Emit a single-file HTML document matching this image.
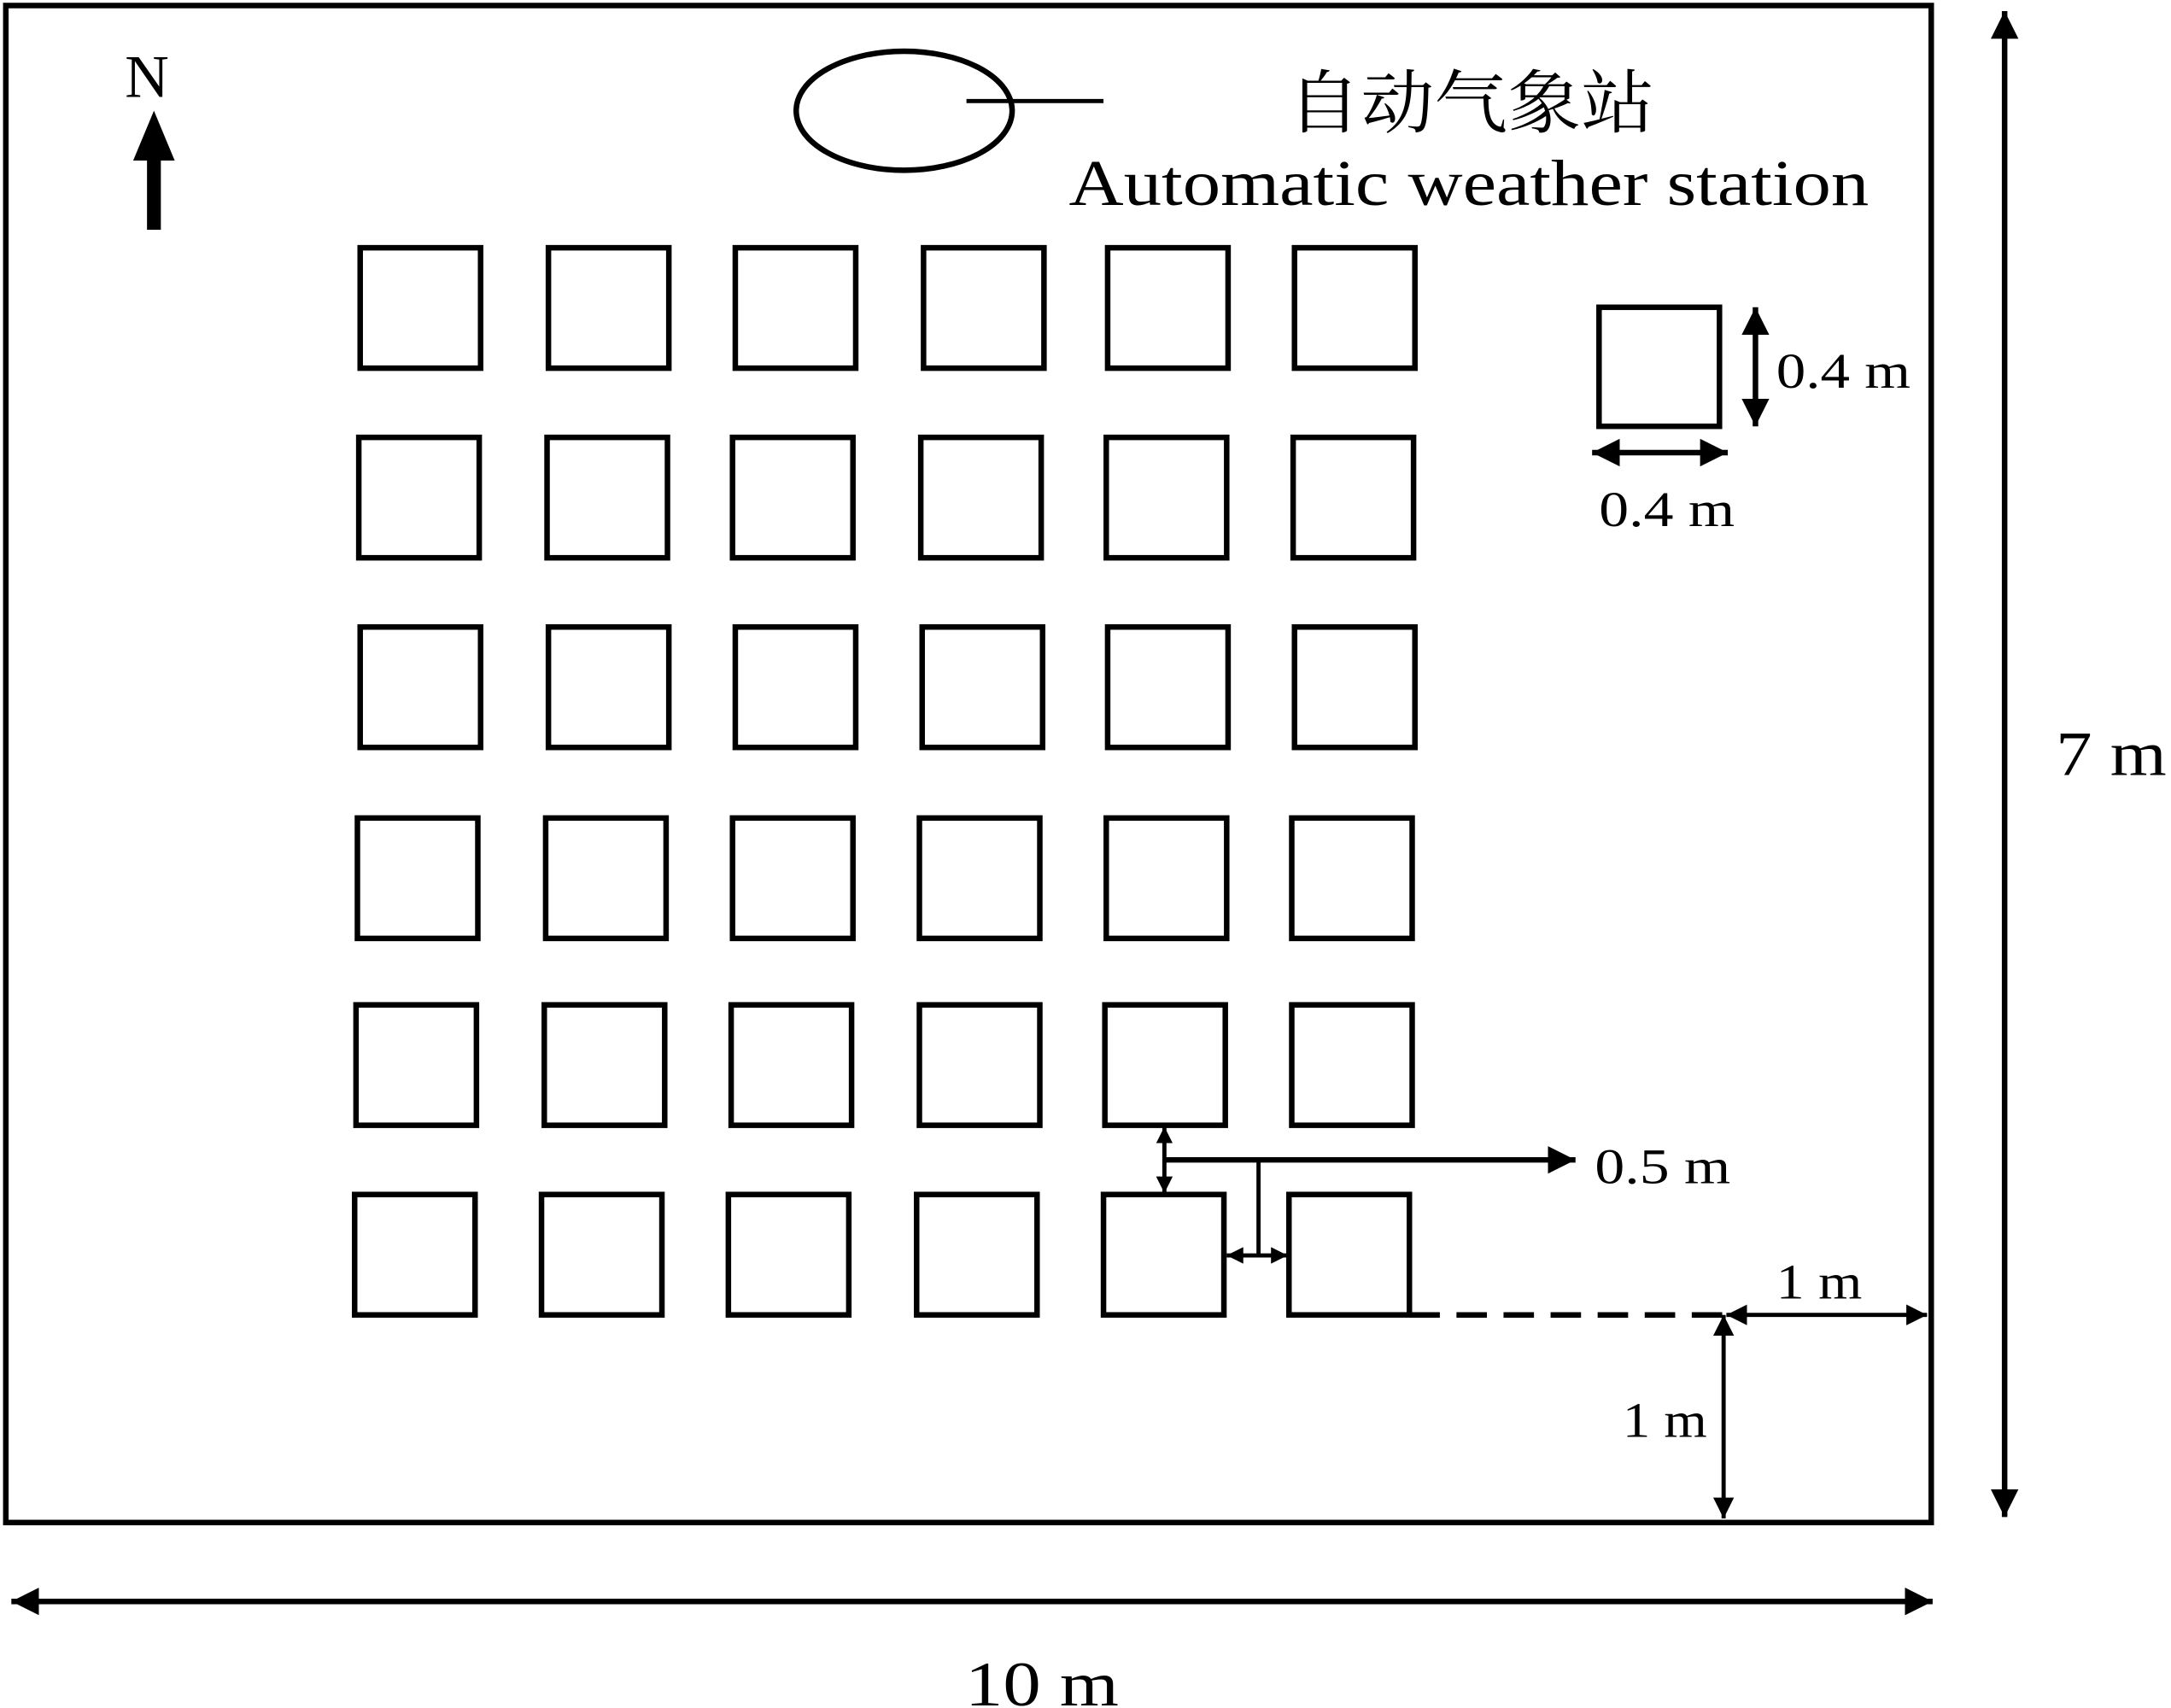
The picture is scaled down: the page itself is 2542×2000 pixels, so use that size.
<!DOCTYPE html>
<html><head><meta charset="utf-8"><style>
html,body{margin:0;padding:0;background:#fff;}
svg{display:block;}
text{font-family:"Liberation Serif","Noto Serif CJK SC",serif;fill:#000;}
</style></head><body>
<svg width="2542" height="2000" viewBox="0 0 1568 1234" xmlns="http://www.w3.org/2000/svg">
<defs>
<marker id="a" viewBox="0 0 10 10" refX="10" refY="5" markerWidth="5" markerHeight="5" orient="auto-start-reverse" markerUnits="strokeWidth">
<path d="M0,0 L10,5 L0,10 z" fill="#000"/></marker>
<marker id="b" viewBox="0 0 10 10" refX="10" refY="5" markerWidth="4" markerHeight="4" orient="auto-start-reverse" markerUnits="strokeWidth">
<path d="M0,0 L10,5 L0,10 z" fill="#000"/></marker>
</defs>
<rect x="4" y="4" width="1391" height="1096" fill="none" stroke="#000" stroke-width="4"/>
<g fill="none" stroke="#000" stroke-width="4">
<rect x="260" y="179" width="87" height="87"/><rect x="396" y="179" width="87" height="87"/><rect x="531" y="179" width="87" height="87"/><rect x="667" y="179" width="87" height="87"/><rect x="800" y="179" width="87" height="87"/><rect x="935" y="179" width="87" height="87"/>
<rect x="259" y="316" width="87" height="87"/><rect x="395" y="316" width="87" height="87"/><rect x="529" y="316" width="87" height="87"/><rect x="665" y="316" width="87" height="87"/><rect x="799" y="316" width="87" height="87"/><rect x="934" y="316" width="87" height="87"/>
<rect x="260" y="453" width="87" height="87"/><rect x="396" y="453" width="87" height="87"/><rect x="531" y="453" width="87" height="87"/><rect x="666" y="453" width="87" height="87"/><rect x="800" y="453" width="87" height="87"/><rect x="935" y="453" width="87" height="87"/>
<rect x="258" y="591" width="87" height="87"/><rect x="394" y="591" width="87" height="87"/><rect x="529" y="591" width="87" height="87"/><rect x="664" y="591" width="87" height="87"/><rect x="799" y="591" width="87" height="87"/><rect x="933" y="591" width="87" height="87"/>
<rect x="257" y="726" width="87" height="87"/><rect x="393" y="726" width="87" height="87"/><rect x="528" y="726" width="87" height="87"/><rect x="664" y="726" width="87" height="87"/><rect x="798" y="726" width="87" height="87"/><rect x="933" y="726" width="87" height="87"/>
<rect x="256" y="863" width="87" height="87"/><rect x="391" y="863" width="87" height="87"/><rect x="526" y="863" width="87" height="87"/><rect x="662" y="863" width="87" height="87"/><rect x="797" y="863" width="87" height="87"/><rect x="931" y="863" width="87" height="87"/>
<rect x="1155" y="222" width="87" height="86"/>
<ellipse cx="653" cy="80" rx="78" ry="43"/>
</g>
<line x1="698" y1="73" x2="797" y2="73" stroke="#000" stroke-width="3"/>
<text x="930" y="92" font-size="50" textLength="265" lengthAdjust="spacingAndGlyphs">自动气象站</text>
<text x="772" y="148" font-size="47" textLength="578" lengthAdjust="spacingAndGlyphs">Automatic weather station</text>
<text x="90" y="70" font-size="44">N</text>
<rect x="106" y="108" width="10" height="58" fill="#000"/>
<path d="M111,80 L96,116 L126,116 z" fill="#000"/>
<g stroke="#000" fill="none">
<line x1="1448" y1="8" x2="1448" y2="1096" stroke-width="4" marker-start="url(#a)" marker-end="url(#a)"/>
<line x1="8" y1="1157" x2="1396" y2="1157" stroke-width="4" marker-start="url(#a)" marker-end="url(#a)"/>
<line x1="1268" y1="222" x2="1268" y2="308" stroke-width="4" marker-start="url(#a)" marker-end="url(#a)"/>
<line x1="1150" y1="327" x2="1248" y2="327" stroke-width="4" marker-start="url(#a)" marker-end="url(#a)"/>
<line x1="841" y1="814" x2="841" y2="862" stroke-width="3" marker-start="url(#b)" marker-end="url(#b)"/>
<line x1="841" y1="838" x2="1138" y2="838" stroke-width="4" marker-end="url(#a)"/>
<line x1="909" y1="838" x2="909" y2="907" stroke-width="3"/>
<line x1="886" y1="907" x2="930" y2="907" stroke-width="3" marker-start="url(#b)" marker-end="url(#b)"/>
<line x1="1018" y1="950" x2="1245" y2="950" stroke-width="4" stroke-dasharray="22,12"/>
<line x1="1247" y1="950" x2="1392" y2="950" stroke-width="3" marker-start="url(#a)" marker-end="url(#a)"/>
<line x1="1245" y1="950" x2="1245" y2="1097" stroke-width="3" marker-start="url(#a)" marker-end="url(#a)"/>
</g>
<text x="1485" y="560" font-size="46" textLength="80" lengthAdjust="spacingAndGlyphs">7 m</text>
<text x="697" y="1232" font-size="46" textLength="111" lengthAdjust="spacingAndGlyphs">10 m</text>
<text x="1283" y="280" font-size="36" textLength="97" lengthAdjust="spacingAndGlyphs">0.4 m</text>
<text x="1155" y="380" font-size="36" textLength="98" lengthAdjust="spacingAndGlyphs">0.4 m</text>
<text x="1152" y="855" font-size="36" textLength="98" lengthAdjust="spacingAndGlyphs">0.5 m</text>
<text x="1283" y="938" font-size="36" textLength="62" lengthAdjust="spacingAndGlyphs">1 m</text>
<text x="1172" y="1038" font-size="36" textLength="61" lengthAdjust="spacingAndGlyphs">1 m</text>
</svg>
</body></html>
